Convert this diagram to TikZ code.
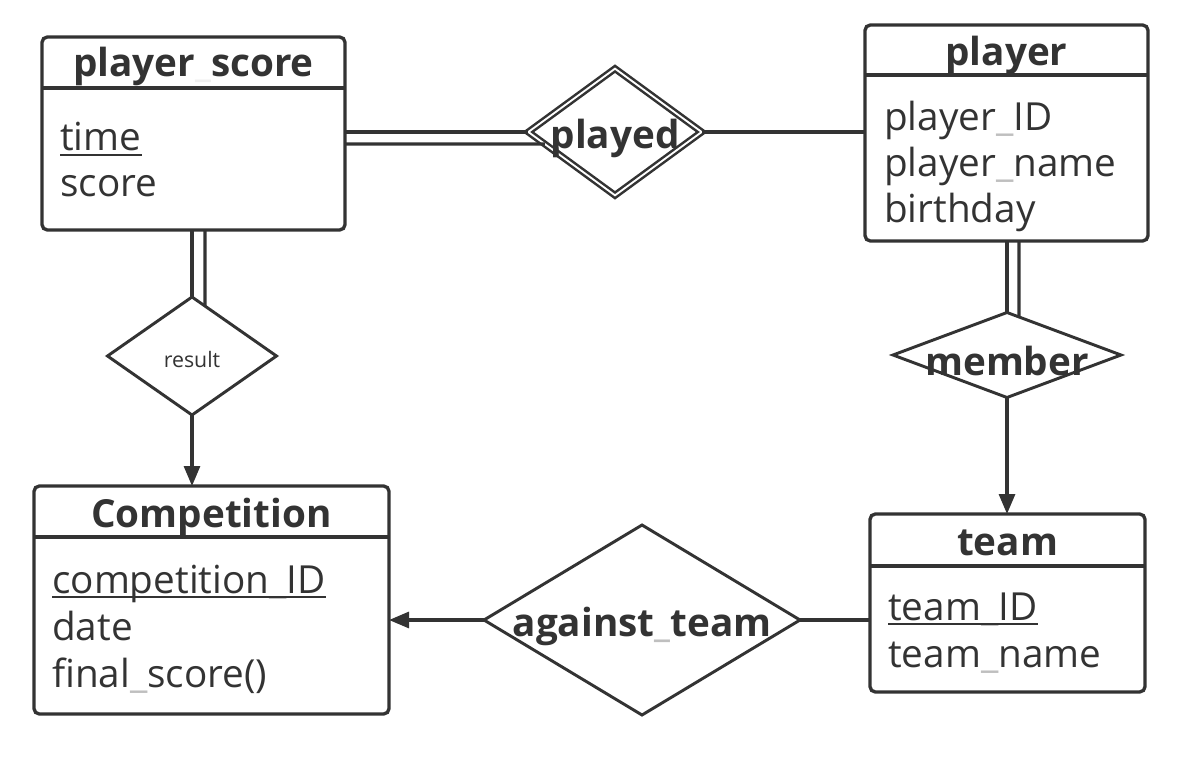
\documentclass[tikz,border=0pt]{standalone}
\usepackage{fontspec}
\setmainfont{Open Sans}
\usetikzlibrary{shapes.geometric,arrows.meta,calc}
\definecolor{ink}{HTML}{333333}
\newcommand\us{{\color{black!25}\_}}
\newcommand\tus{{\color{black!6}\_}}
\tikzset{
	entity/.style={draw=ink, line width=2.5pt, rounded corners=4pt, inner sep=0pt, outer sep=0pt},
	title/.style={font=\fontsize{29}{35}\selectfont\bfseries, text=ink, inner sep=0pt, anchor=base},
	attr/.style={font=\fontsize{29}{35}\selectfont, text=ink, inner sep=0pt, anchor=base west},
	rel/.style={draw=ink, line width=2.2pt, shape=diamond, inner sep=0pt, outer sep=0pt},
	rlabel/.style={font=\fontsize{29}{35}\selectfont\bfseries, text=ink, inner sep=0pt, yshift=-4.5pt},
	link/.style={draw=ink, line width=2.3pt},
	arrow/.style={link, -{Triangle[length=15pt, width=12pt]}},
	key/.style={draw=ink, line width=1.6pt}
}
\begin{document}
\begin{tikzpicture}[x=0.75pt, y=-0.75pt]
	\useasboundingbox (0,0) rectangle (1187,766);
	% entities
	\node[entity, minimum width=227.25pt, minimum height=144.75pt] (ps) at (193.5,133.5) {};
	\draw[entity] ($(ps.north west)+(0,51)$) -- ($(ps.north east)+(0,51)$);
	\node[title] (pstitle) at (193.5,77) {player\tus score};
	\node[attr] (pstime) at (60,151) {time};
	\draw[key] ($(pstime.base west)+(0,4)$) -- ($(pstime.base east)+(0,4)$);
	\node[attr] (psscore) at (60,197) {score};

	\node[entity, minimum width=212.25pt, minimum height=162pt] (pl) at (1006.5,133) {};
	\draw[entity] ($(pl.north west)+(0,50)$) -- ($(pl.north east)+(0,50)$);
	\node[title] (pltitle) at (1006.5,66) {player};
	\node[attr] (plid) at (884,131) {player\us ID};
	\node[attr] (plname) at (884,177) {player\us name};
	\node[attr] (plbirth) at (884,223) {birthday};

	\node[entity, minimum width=266.25pt, minimum height=171pt] (comp) at (211.5,600) {};
	\draw[entity] ($(comp.north west)+(0,51)$) -- ($(comp.north east)+(0,51)$);
	\node[title] (comptitle) at (211.5,527) {Competition};
	\node[attr] (compid) at (52,593) {competition\us ID};
	\draw[key] ($(compid.base west)+(0,4)$) -- ($(compid.base east)+(0,4)$);
	\node[attr] (compdate) at (52,640) {date};
	\node[attr] (compfinal) at (52,687) {final\us score()};

	\node[entity, minimum width=206.25pt, minimum height=133.5pt] (tm) at (1007.5,603) {};
	\draw[entity] ($(tm.north west)+(0,52)$) -- ($(tm.north east)+(0,52)$);
	\node[title] (tmtitle) at (1007.5,555) {team};
	\node[attr] (tmid) at (888,620) {team\us ID};
	\draw[key] ($(tmid.base west)+(0,4)$) -- ($(tmid.base east)+(0,4)$);
	\node[attr] (tmname) at (888,667) {team\us name};

	% relations
	\node[rel, line width=1.9pt, double, double distance=1.4pt, minimum width=130pt, minimum height=95pt,
		label={[rlabel]center:played}] (played) at (615,132) {};
	\node[rel, minimum width=126.75pt, minimum height=88.5pt,
		label={[rlabel, yshift=2pt, font=\fontsize{16}{19}\selectfont]center:result}] (result) at (192,356) {};
	\node[rel, minimum width=171pt, minimum height=63.75pt,
		label={[rlabel]center:member}] (member) at (1007,355) {};
	\node[rel, minimum width=237pt, minimum height=142.5pt,
		label={[rlabel]center:against\us team}] (against) at (642,620) {};

	% connectors
	\draw[link] (ps.east |- played.west) -- (played.west);
	\draw[link] ($(ps.east |- played.west)+(0,12)$) -- ($(played.west)!0.19!(played.south)$);
	\draw[link] (played.east) -- (played.east -| pl.west);
	\draw[link] (result.north |- ps.south) -- (result.north);
	\draw[link] ($(result.north |- ps.south)+(13,0)$) -- ($(result.north)!0.154!(result.east)$);
	\draw[arrow] (result.south) -- (result.south |- comp.north);
	\draw[link] (member.north |- pl.south) -- (member.north);
	\draw[link] ($(member.north |- pl.south)+(12,0)$) -- ($(member.north)!0.105!(member.east)$);
	\draw[arrow] (member.south) -- (member.south |- tm.north);
	\draw[link] (tm.west |- against.east) -- (against.east);
	\draw[arrow] (against.west) -- (against.west -| comp.east);
\end{tikzpicture}
\end{document}
